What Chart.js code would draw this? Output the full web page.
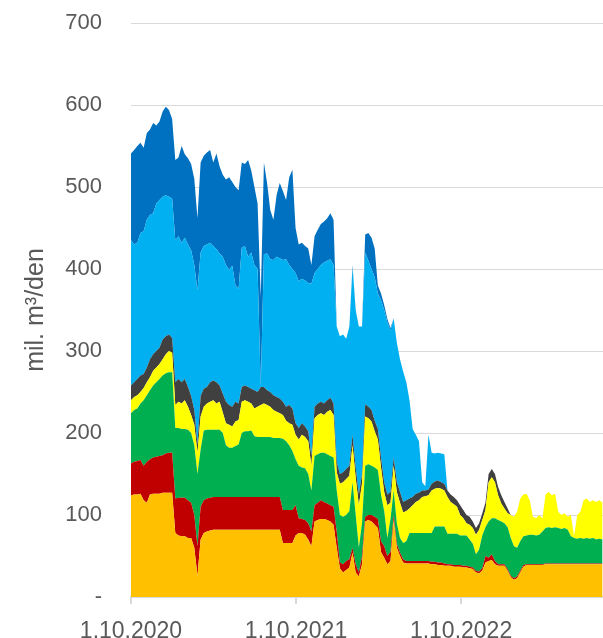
<!DOCTYPE html>
<html>
<head>
<meta charset="utf-8">
<script src="https://cdn.jsdelivr.net/npm/chart.js@4.4.1/dist/chart.umd.min.js"></script>
<style>
  html, body { margin: 0; padding: 0; background: #fff; }
  #wrap { width: 603px; height: 638px; }
</style>
</head>
<body>
<div id="wrap"><canvas id="myChart" width="603" height="638"></canvas></div>
<script>
// weekly samples starting 1.10.2020, mil. m3/den, stacked bottom -> top
const tickLabels = ['1.10.2020', '1.10.2021', '1.10.2022'];
const seriesNames = ['Řada 1', 'Řada 2', 'Řada 3', 'Řada 4', 'Řada 5', 'Řada 6', 'Řada 7'];

const orange = [
  124,125,125,126,118,115,125,126,126,126,127,127,127,127,
  78,75,74,74,72,72,60,26,70,78,80,81,82,82,
  82,82,82,82,82,82,82,82,82,82,82,82,82,82,
  82,82,82,82,82,82,66,66,66,66,
  75,78,78,76,70,62,92,94,95,95,94,92,88,60,
  35,30,33,36,54,30,25,40,92,94,92,88,84,55,
  48,40,44,94,60,50,42,41,41,41,41,41,41,41,
  41,40,40,39,39,38,38,38,37,37,
  37,36,36,35,34,30,29,32,42,44,45,40,38,38,
  38,32,24,21,23,30,37,39,39,39,39,39,39,40,
  40,40,40,40,40,40,40,40,40,40,40,40,40,40,40,40,40,40
];
const red = [
  39,40,41,41,42,50,43,44,45,46,46,48,49,49,
  42,46,47,47,46,43,40,36,40,40,40,40,40,40,
  40,40,40,40,40,40,40,40,40,40,40,40,40,40,
  40,40,40,40,40,40,40,40,40,40,
  37,18,17,18,20,18,20,21,23,21,20,20,22,20,
  7,10,11,10,6,10,5,10,6,6,8,10,11,13,
  14,10,11,6,5,4,4,3,3,3,3,3,3,3,
  3,3,3,3,3,3,2,2,2,2,
  2,2,2,2,2,2,2,3,8,4,7,4,2,2,
  2,2,2,2,2,2,2,1,1,1,1,1,1,1,
  1,1,1,1,1,1,1,1,1,1,1,1,1,1,1,1,1,1
];
const green = [
  61,63,64,69,80,81,84,88,91,94,97,98,98,98,
  86,85,84,84,86,85,85,88,70,85,84,83,82,82,
  82,78,63,60,60,62,64,78,80,80,81,74,73,73,
  73,73,73,72,72,72,87,84,79,72,
  56,64,63,63,60,50,60,59,58,60,60,60,60,50,
  58,58,56,59,80,60,30,40,62,62,60,60,60,57,
  43,22,40,30,25,18,20,24,34,34,34,34,34,34,
  34,35,43,44,44,45,37,37,38,38,
  36,37,37,33,29,20,27,40,35,44,44,52,54,52,
  50,51,46,39,35,36,35,35,36,36,35,36,40,43,
  44,43,44,43,42,43,41,33,31,30,31,30,31,30,31,29,30,29
];
const yellow = [
  16,16,16,14,15,16,16,18,18,18,20,23,26,24,
  28,32,31,35,28,22,25,26,40,29,32,34,36,32,
  34,25,27,28,26,30,30,38,38,36,33,34,37,39,
  41,39,37,34,32,30,29,25,27,32,
  30,32,40,38,40,30,46,48,48,46,52,56,52,22,
  38,42,44,43,45,45,52,48,60,56,54,44,37,33,
  23,40,20,30,38,43,37,37,30,34,38,40,44,45,
  46,52,46,47,46,44,45,39,36,33,
  25,21,15,18,19,24,24,19,21,48,50,44,30,22,
  18,17,28,36,44,52,51,51,42,22,21,24,16,41,
  43,40,41,20,17,18,16,26,2,29,32,47,48,45,46,46,47,45
];
const gray = [
  18,18,20,20,17,18,22,20,20,20,24,22,20,18,
  28,28,26,26,24,23,18,10,25,22,20,24,24,26,
  20,23,26,24,24,24,20,18,18,18,18,22,18,22,
  20,18,18,18,18,18,16,17,22,20,
  14,14,14,13,12,12,14,14,14,14,14,15,14,13,
  12,12,12,12,13,13,13,12,15,14,14,13,13,12,
  12,13,13,10,12,13,13,13,12,10,10,9,8,7,
  7,8,9,9,8,8,8,9,9,8,
  12,10,10,10,8,8,8,8,9,10,10,10,10,10,
  8,6,0,0,0,0,0,0,0,0,0,0,0,0,
  0,0,0,0,0,0,0,0,0,0,0,0,0,0,0,0,0,0
];
const lightBlue = [
  177,168,166,174,174,180,176,172,180,180,174,172,168,170,
  173,174,170,172,174,178,177,188,175,174,174,170,164,162,
  161,167,167,165,172,142,140,170,170,159,166,153,150,0,
  162,167,162,165,171,171,173,180,171,170,
  183,179,176,178,181,210,163,164,167,172,170,169,169,165,
  168,168,159,170,204,192,205,180,185,178,172,175,165,192,
  210,210,197,170,170,162,159,144,120,83,72,63,10,5,
  67,38,34,34,35,36,0,0,0,0,
  0,0,0,0,0,0,0,0,0,0,0,0,0,0,
  0,0,0,0,0,0,0,0,0,0,0,0,0,0,
  0,0,0,0,0,0,0,0,0,0,0,0,0,0,0,0,0,0
];
const darkBlue = [
  106,115,118,110,102,106,104,110,95,96,104,108,106,97,
  98,96,118,102,105,105,105,88,110,110,112,113,102,117,
  106,100,104,113,102,120,120,104,100,118,100,95,80,110,
  112,86,60,49,75,92,84,72,107,121,
  55,45,44,42,42,23,45,48,50,50,52,56,55,0,
  0,0,0,0,3,0,0,0,22,34,38,35,10,8,
  6,4,3,0,0,0,0,0,0,0,0,0,0,0,
  0,0,0,0,0,0,0,0,0,0,
  0,0,0,0,0,0,0,0,0,0,0,0,0,0,
  0,0,0,0,0,0,0,0,0,0,0,0,0,0,
  0,0,0,0,0,0,0,0,0,0,0,0,0,0,0,0,0,0
];

const colors = ['#FFC000', '#C00000', '#00B050', '#FFFF00', '#404040', '#00B0F0', '#0070C0'];
const series = [orange, red, green, yellow, gray, lightBlue, darkBlue];

const days = orange.map((v, i) => i * 7);

function dayOf(label) {
  const [d, m, y] = label.split('.').map(Number);
  return Math.round((Date.UTC(y, m - 1, d) - Date.UTC(2020, 9, 1)) / 86400000);
}
const tickDays = tickLabels.map(dayOf);

const font = 'Liberation Sans, Arial, sans-serif';
const textColor = '#595959';
const gridColor = '#d9d9d9';

const ctx = document.getElementById('myChart');
new Chart(ctx, {
  type: 'line',
  data: {
    datasets: series.map((vals, i) => ({
      label: seriesNames[i],
      data: vals.map((v, k) => ({ x: days[k], y: v })),
      backgroundColor: colors[i],
      borderColor: 'rgba(0,0,0,0)',
      borderWidth: 0,
      pointRadius: 0,
      tension: 0,
      fill: i === 0 ? 'origin' : '-1'
    }))
  },
  options: {
    responsive: false,
    animation: false,
    layout: { padding: { top: 23, right: 0, left: 0, bottom: 0 } },
    plugins: {
      legend: { display: false },
      tooltip: { enabled: false }
    },
    scales: {
      x: {
        type: 'linear',
        min: 0,
        max: 1044,
        afterBuildTicks: (s) => { s.ticks = tickDays.map(v => ({ value: v })); },
        afterFit: (s) => { s.height = 41; },
        ticks: {
          autoSkip: false,
          maxRotation: 0,
          padding: 14,
          color: textColor,
          font: { family: font, size: 23 },
          callback: (v) => tickLabels[tickDays.indexOf(v)]
        },
        grid: { drawOnChartArea: false, drawTicks: true, tickLength: 7, color: gridColor, lineWidth: 2 },
        border: { display: true, color: gridColor, width: 2 }
      },
      y: {
        stacked: true,
        min: 0,
        max: 700,
        afterFit: (s) => {
          s.width = 131;
          s.paddingTop = 0;   // tick padding would otherwise push the plot down
          s.paddingBottom = 0;
        },
        ticks: {
          stepSize: 100,
          padding: 29,
          color: textColor,
          font: { family: font, size: 22 },
          callback: (v) => v === 0 ? '-' : v
        },
        grid: { color: gridColor, lineWidth: 1, drawTicks: false },
        border: { display: false },
        title: {
          display: true,
          text: 'mil. m³/den',
          color: textColor,
          font: { family: font, size: 25 },
          padding: { top: 21, bottom: 0 }
        }
      }
    }
  }
});
</script>
</body>
</html>
